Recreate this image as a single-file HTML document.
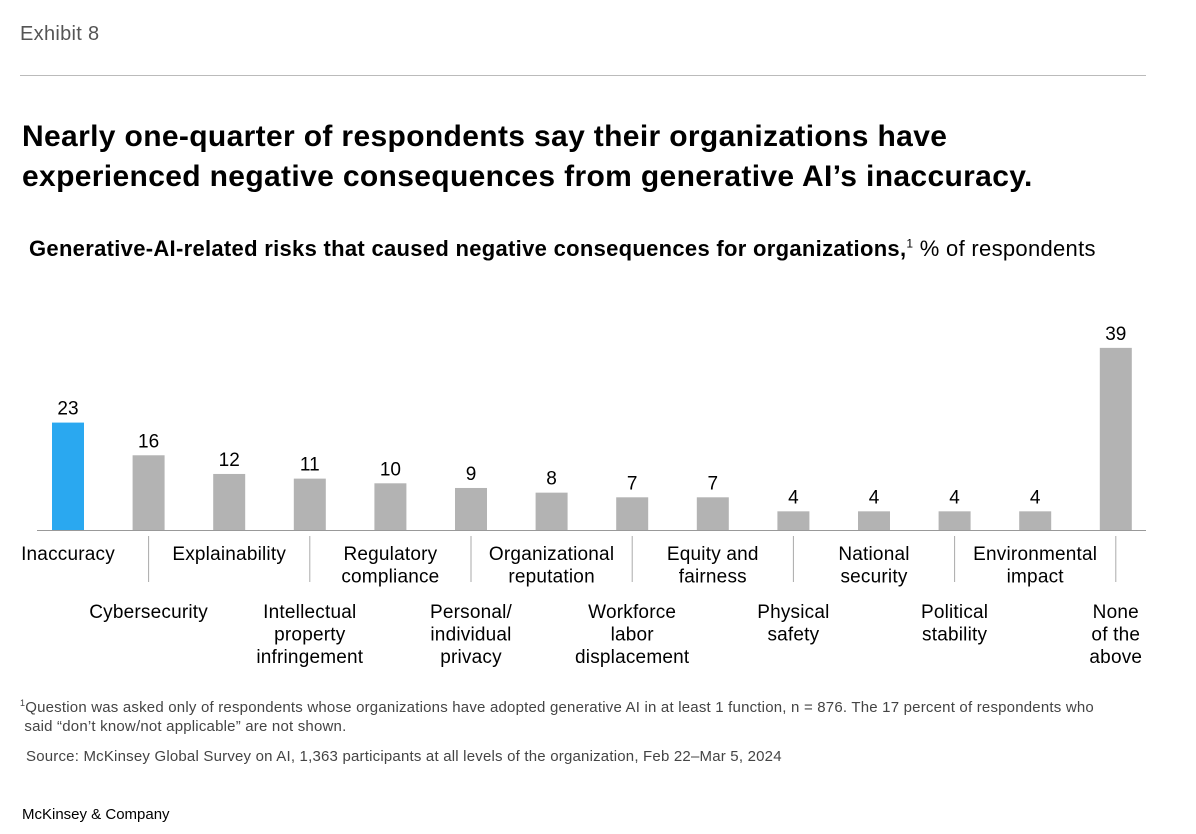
<!DOCTYPE html>
<html><head><meta charset="utf-8">
<style>
body{margin:0;width:1196px;height:834px;background:#fff;font-family:"Liberation Sans",sans-serif;color:#000;position:relative;overflow:hidden}
.a{position:absolute;margin:0}
</style></head><body>
<div class="a" style="left:20px;top:23px;font-size:20px;letter-spacing:0.3px;color:#555">Exhibit 8</div>
<div class="a" style="left:20px;top:75px;width:1126px;height:1px;background:#bbb"></div>
<div class="a" style="left:22px;top:117px;font-size:30px;letter-spacing:0.35px;font-weight:bold;line-height:40px;white-space:nowrap">Nearly one-quarter of respondents say their organizations have<br>experienced negative consequences from generative AI’s inaccuracy.</div>
<div class="a" style="left:29px;top:236px;font-size:22px;letter-spacing:0.3px;white-space:nowrap"><b>Generative-AI-related risks that caused negative consequences for organizations,</b><sup style="font-size:12px">1</sup> % of respondents</div>
<svg class="a" style="left:0;top:0" width="1196" height="834" id="chart"></svg>
<div class="a" style="left:20px;top:694px;font-size:15px;letter-spacing:0.2px;color:#444;line-height:19px;white-space:nowrap"><sup style="font-size:9px">1</sup>Question was asked only of respondents whose organizations have adopted generative AI in at least 1 function, n = 876. The 17 percent of respondents who<br>&nbsp;said “don’t know/not applicable” are not shown.</div>
<div class="a" style="left:26px;top:748px;font-size:15px;letter-spacing:0.2px;color:#444;white-space:nowrap">Source: McKinsey Global Survey on AI, 1,363 participants at all levels of the organization, Feb 22–Mar 5, 2024</div>
<div class="a" style="left:22px;top:806px;font-size:15px">McKinsey &amp; Company</div>
<script>
const categories=["Inaccuracy","Cybersecurity","Explainability","Intellectual|property|infringement","Regulatory|compliance","Personal/|individual|privacy","Organizational|reputation","Workforce|labor|displacement","Equity and|fairness","Physical|safety","National|security","Political|stability","Environmental|impact","None|of the|above"];
const values=[23,16,12,11,10,9,8,7,7,4,4,4,4,39];
const svg=document.getElementById('chart');const NS='http://www.w3.org/2000/svg';
const x0=68,step=80.6,base=530,scale=4.67,bw=32;
function xPos(i){return x0+i*step}
function yPos(v){return base-v*scale}
function mk(t,a){const e=document.createElementNS(NS,t);for(const k in a)e.setAttribute(k,a[k]);svg.appendChild(e);return e}
values.forEach((v,i)=>{
 const cx=xPos(i);
 const r=mk('rect',{x:cx-bw/2,y:yPos(v),width:bw,height:v*scale,fill:i===0?'#2aa8f0':'#b3b3b3'});
 
 
 const t=mk('text',{x:cx,y:yPos(v)-8,'text-anchor':'middle','font-size':19,'font-family':'Liberation Sans'});t.textContent=v;
 
 
 const lines=categories[i].split('|');const top=i%2===0?560:618;
 if(i%2===1){const l=mk('line',{x1:cx,x2:cx,y1:536,y2:582,stroke:'#aaa','stroke-width':1});
  
  }
 lines.forEach((s,j)=>{const tt=mk('text',{x:cx,y:top+j*22.5,'text-anchor':'middle','font-size':19,'letter-spacing':'0.2','font-family':'Liberation Sans'});tt.textContent=s;
  
  });
});
const ax=mk('line',{x1:37,x2:1146,y1:base+0.5,y2:base+0.5,stroke:'#999','stroke-width':1});


</script>
</body></html>
